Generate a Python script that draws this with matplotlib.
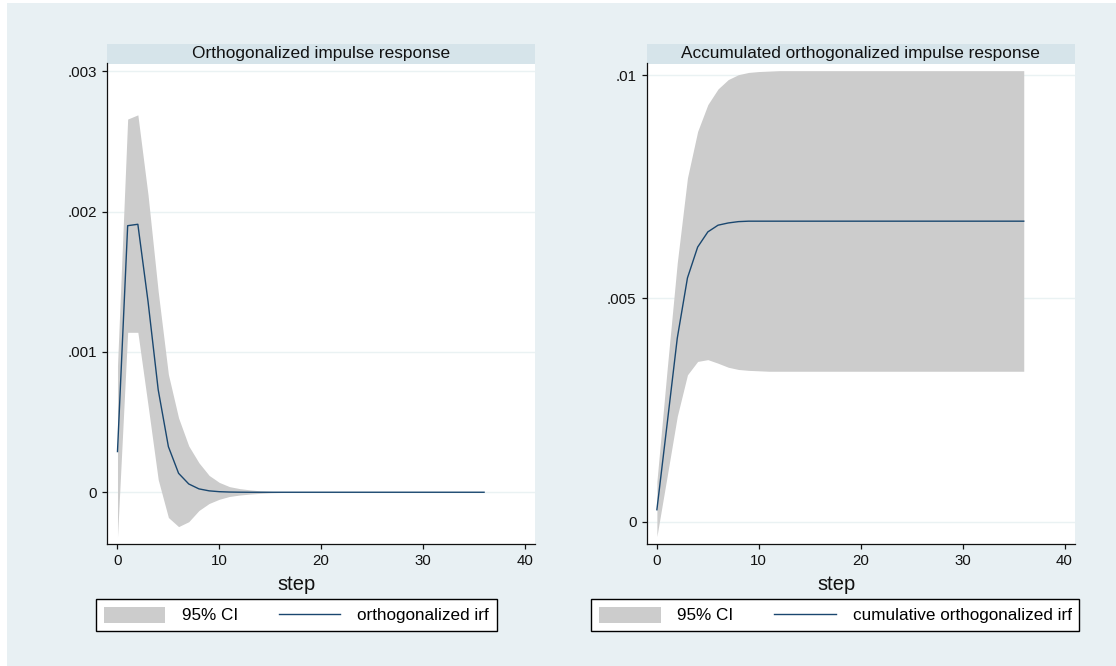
import numpy as np
import matplotlib.pyplot as plt
from matplotlib.patches import Rectangle

# data (Stata irf graphs)
steps = np.arange(0, 37)

oirf = [0.00029, 0.00190, 0.00191, 0.00136, 0.00073, 0.000325, 0.000135, 0.000059,
        0.000024, 0.00001, 0.000004, 0.0000015, 0.0000005, 0.0, 0.0, 0.0, 0.0, 0.0,
        0.0, 0.0, 0.0, 0.0, 0.0, 0.0, 0.0, 0.0, 0.0, 0.0, 0.0, 0.0, 0.0, 0.0, 0.0,
        0.0, 0.0, 0.0, 0.0]
oirf_hi = [0.00090, 0.00266, 0.00269, 0.00212, 0.00143, 0.00084, 0.00053, 0.00033,
           0.00021, 0.00012, 0.00007, 0.00004, 0.000026, 0.000017, 0.00001, 0.000006,
           0.000003, 0.000002, 0.000001, 0.0, 0.0, 0.0, 0.0, 0.0, 0.0, 0.0, 0.0, 0.0,
           0.0, 0.0, 0.0, 0.0, 0.0, 0.0, 0.0, 0.0, 0.0]
oirf_lo = [-0.00032, 0.00114, 0.00114, 0.00062, 0.00009, -0.00018, -0.000245, -0.00021,
           -0.00013, -0.00008, -0.00005, -0.00003, -0.00002, -0.000013, -0.000008,
           -0.000004, -0.000002, -0.000001, 0.0, 0.0, 0.0, 0.0, 0.0, 0.0, 0.0, 0.0, 0.0,
           0.0, 0.0, 0.0, 0.0, 0.0, 0.0, 0.0, 0.0, 0.0, 0.0]

coirf = [0.00027, 0.00218, 0.00411, 0.00546, 0.00615, 0.00649, 0.00664, 0.00669,
         0.00672, 0.00673, 0.00673, 0.00673, 0.00673, 0.00673, 0.00673, 0.00673,
         0.00673, 0.00673, 0.00673, 0.00673, 0.00673, 0.00673, 0.00673, 0.00673,
         0.00673, 0.00673, 0.00673, 0.00673, 0.00673, 0.00673, 0.00673, 0.00673,
         0.00673, 0.00673, 0.00673, 0.00673, 0.00673]
coirf_hi = [0.00090, 0.00340, 0.00580, 0.00770, 0.00874, 0.00934, 0.00969, 0.00990,
            0.01001, 0.01006, 0.01008, 0.01009, 0.0101, 0.0101, 0.0101, 0.0101, 0.0101,
            0.0101, 0.0101, 0.0101, 0.0101, 0.0101, 0.0101, 0.0101, 0.0101, 0.0101,
            0.0101, 0.0101, 0.0101, 0.0101, 0.0101, 0.0101, 0.0101, 0.0101, 0.0101,
            0.0101, 0.0101]
coirf_lo = [-0.00033, 0.00101, 0.00236, 0.00329, 0.00359, 0.00363, 0.00355, 0.00346,
            0.00341, 0.00339, 0.00338, 0.00337, 0.00337, 0.00337, 0.00337, 0.00337,
            0.00337, 0.00337, 0.00337, 0.00337, 0.00337, 0.00337, 0.00337, 0.00337,
            0.00337, 0.00337, 0.00337, 0.00337, 0.00337, 0.00337, 0.00337, 0.00337,
            0.00337, 0.00337, 0.00337, 0.00337, 0.00337]

titles = ["Orthogonalized impulse response", "Accumulated orthogonalized impulse response"]
line_labels = ["orthogonalized irf", "cumulative orthogonalized irf"]
ci_label = "95% CI"
x_ticks = [0, 10, 20, 30, 40]
left_yticks = [0.0, 0.001, 0.002, 0.003]
left_yticklabels = ["0", ".001", ".002", ".003"]
right_yticks = [0.0, 0.005, 0.01]
right_yticklabels = ["0", ".005", ".01"]

BG = "#e8f0f3"
STRIP = "#d6e4ea"
GRID = "#eaf2f3"
BAND = "#cccccc"
NAVY = "#1a476f"

plt.rcParams['font.family'] = ['Liberation Sans', 'DejaVu Sans']

W, H = 1116, 666
fig = plt.figure(figsize=(W / 100, H / 100), dpi=100, facecolor="white")
# graph region (thin white margin at left and top like the original export)
fig.patches.append(Rectangle((7 / W, 0), 1 - 7 / W, 1 - 3 / H,
                             transform=fig.transFigure, facecolor=BG,
                             edgecolor="none", zorder=-10))

bottom = 1 - 544.3 / H
height = (544.3 - 63.5) / H
panels = [
    dict(x0=107.3, x1=535.0, y=oirf, lo=oirf_lo, hi=oirf_hi,
         ylim=(-0.000371, 0.003056), yt=left_yticks, ytl=left_yticklabels,
         leg_cx=296.2, step_cx=296.3),
    dict(x0=646.7, x1=1074.7, y=coirf, lo=coirf_lo, hi=coirf_hi,
         ylim=(-0.000504, 0.01026), yt=right_yticks, ytl=right_yticklabels,
         leg_cx=835.4, step_cx=836.4),
]

for i, p in enumerate(panels):
    ax = fig.add_axes([p["x0"] / W, bottom, (p["x1"] - p["x0"]) / W, height])
    ax.set_facecolor("white")
    band = ax.fill_between(steps, p["lo"], p["hi"], color=BAND, linewidth=0,
                           label=ci_label, zorder=2)
    line, = ax.plot(steps, p["y"], color=NAVY, linewidth=1.0, label=line_labels[i],
                    zorder=3)

    ax.set_xlim(-1, 41)
    ax.set_ylim(*p["ylim"])
    ax.set_xticks(x_ticks)
    ax.set_yticks(p["yt"])
    ax.set_yticklabels(p["ytl"])
    ax.grid(axis="y", color=GRID, linewidth=1.0, zorder=0)
    ax.set_axisbelow(True)
    for s in ["top", "right"]:
        ax.spines[s].set_visible(False)
    for s in ["left", "bottom"]:
        ax.spines[s].set_color("#111111")
        ax.spines[s].set_linewidth(0.9)
    ax.tick_params(direction="out", length=3.3, width=0.9, color="#111111",
                   labelsize=10.8, pad=4, labelcolor="#111111")

    # title strip
    strip_h = 19.5 / (544.3 - 63.5)
    ax.add_patch(Rectangle((0, 1), 1, strip_h, transform=ax.transAxes,
                           facecolor=STRIP, edgecolor="none", clip_on=False))
    ax.text(0.5, 1 + strip_h / 2, titles[i], transform=ax.transAxes,
            ha="center", va="center", fontsize=12.4, color="#111111")

    # x-axis title centred on the whole graph
    ax.set_xlabel("step", fontsize=14.5, color="#111111", va="center")
    ax.xaxis.set_label_coords((p["step_cx"] - p["x0"]) / (p["x1"] - p["x0"]),
                              -(584 - 544.3) / (544.3 - 63.5))

    leg = fig.legend(handles=[band, line], loc="center",
                     bbox_to_anchor=(p["leg_cx"] / W, 1 - 615 / H),
                     bbox_transform=fig.transFigure, ncol=2, fontsize=12.3,
                     frameon=True, fancybox=False, shadow=False,
                     handlelength=3.6, handleheight=1.06, handletextpad=0.98,
                     columnspacing=2.4, borderpad=0.45, borderaxespad=0)
    fr = leg.get_frame()
    fr.set_edgecolor("black")
    fr.set_linewidth(1.0)
    fr.set_facecolor("white")
    fr.set_alpha(1)

fig.savefig("out.png", dpi=100, facecolor=fig.get_facecolor())
